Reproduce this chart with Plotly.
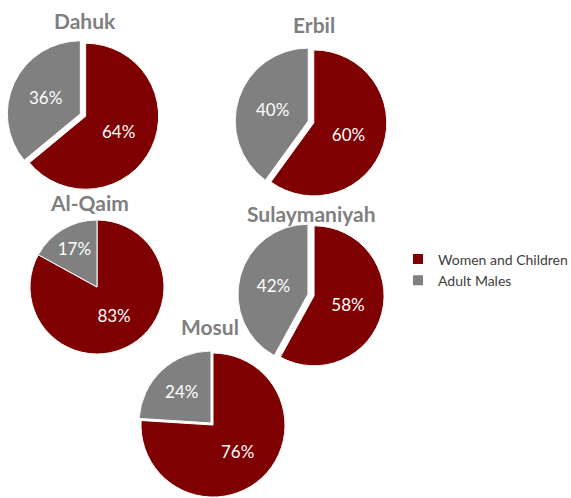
import plotly.graph_objects as go

W, H = 571, 498

cities = ["Dahuk", "Erbil", "Al-Qaim", "Sulaymaniyah", "Mosul"]
categories = ["Women and Children", "Adult Males"]
women_children = [64, 60, 83, 58, 76]
adult_males = [36, 40, 17, 42, 24]
colors = ["#7f0000", "#808080"]

# pixel layout: center x, center y, radius, pull, title x, title y
layout_px = {
    "Dahuk": (83, 115, 73, 0.04, 85, 21),
    "Erbil": (311, 122, 73, 0.04, 314, 24),
    "Al-Qaim": (97, 287, 67, 0.0, 89, 203),
    "Sulaymaniyah": (311, 295, 70, 0.045, 311, 213),
    "Mosul": (212, 424, 72, 0.02, 210, 326),
}
FONT = "Lato"


def clamp(v):
    return max(0.0, min(1.0, v))


fig = go.Figure()
annotations = []
for i, city in enumerate(cities):
    cx, cy, r, pull, tx, ty = layout_px[city]
    half = r * (1 + pull)
    fig.add_trace(go.Pie(
        labels=categories,
        values=[women_children[i], adult_males[i]],
        sort=False,
        direction="clockwise",
        rotation=0,
        pull=[pull, pull],
        marker=dict(colors=colors, line=dict(color="white", width=1)),
        texttemplate="%{value}%",
        textposition="inside",
        insidetextorientation="horizontal",
        insidetextfont=dict(color="white", size=17, family=FONT),
        domain=dict(x=[clamp((cx - half) / W), clamp((cx + half) / W)],
                    y=[clamp(1 - (cy + half) / H), clamp(1 - (cy - half) / H)]),
        showlegend=(i == 0),
        hoverinfo="label+value",
        name=city,
    ))
    annotations.append(dict(
        text="<b>" + city + "</b>", x=tx / W, y=1 - ty / H,
        xref="paper", yref="paper", showarrow=False,
        xanchor="center", yanchor="middle",
        font=dict(size=21, color="#7f7f7f", family=FONT),
    ))

fig.update_layout(
    width=W, height=H,
    margin=dict(l=0, r=0, t=0, b=0, autoexpand=False),
    paper_bgcolor="white",
    plot_bgcolor="white",
    annotations=annotations,
    legend=dict(x=398 / W, y=1 - 270 / H, xanchor="left", yanchor="middle",
                font=dict(size=14, color="#404040", family=FONT),
                itemsizing="constant", tracegroupgap=0,
                bgcolor="rgba(0,0,0,0)"),
)

fig.write_html("out.html")
